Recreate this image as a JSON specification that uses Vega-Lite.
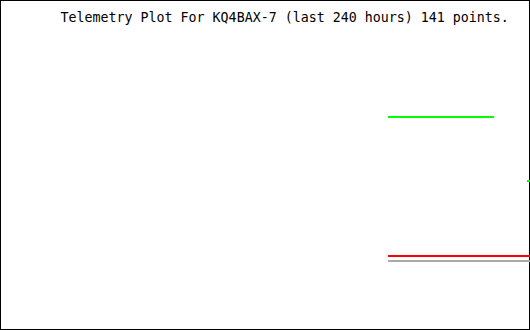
{
  "$schema": "https://vega.github.io/schema/vega-lite/v6.json",
  "width": 530,
  "height": 330,
  "autosize": "none",
  "padding": 0,
  "background": "white",
  "config": {
    "view": {"stroke": "black", "strokeWidth": 2, "fill": "white"}
  },
  "datasets": {
    "series": [
      {"hours": -64.3, "value": 213, "series": "green", "seg": "g1"},
      {"hours": -16.3, "value": 213, "series": "green", "seg": "g1"},
      {"hours": -1.4, "value": 149, "series": "green", "seg": "g2"},
      {"hours": 0, "value": 149, "series": "green", "seg": "g2"},
      {"hours": -64.3, "value": 74, "series": "red", "seg": "r1"},
      {"hours": 0, "value": 74, "series": "red", "seg": "r1"},
      {"hours": -64.3, "value": 69, "series": "grey", "seg": "k1"},
      {"hours": 0, "value": 69, "series": "grey", "seg": "k1"}
    ],
    "heading": [
      {"hours": -212.6, "value": 308, "label": "Telemetry Plot For KQ4BAX-7 (last 240 hours) 141 points."}
    ]
  },
  "layer": [
    {
      "data": {"name": "series"},
      "mark": {"type": "line", "strokeWidth": 2, "clip": true, "interpolate": "linear"},
      "encoding": {
        "x": {"field": "hours", "type": "quantitative", "scale": {"domain": [-240, 0], "nice": false, "zero": false}, "axis": null},
        "y": {"field": "value", "type": "quantitative", "scale": {"domain": [0, 330], "nice": false}, "axis": null},
        "color": {"field": "series", "type": "nominal", "scale": {"domain": ["green", "red", "grey"], "range": ["#00ff00", "#ff0000", "#aaaaaa"]}, "legend": null},
        "detail": {"field": "seg"}
      }
    },
    {
      "data": {"name": "heading"},
      "mark": {"type": "text", "align": "left", "baseline": "alphabetic", "font": "DejaVu Sans Mono", "fontSize": 13.3, "color": "black"},
      "encoding": {
        "x": {"field": "hours", "type": "quantitative"},
        "y": {"field": "value", "type": "quantitative"},
        "text": {"field": "label"}
      }
    }
  ]
}
